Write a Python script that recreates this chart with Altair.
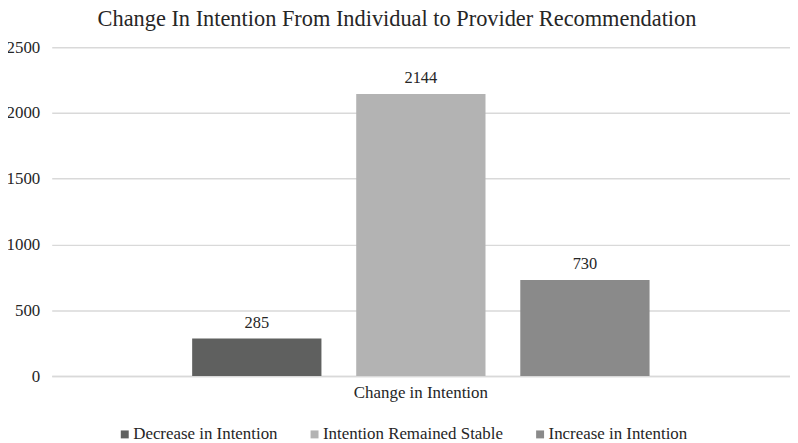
import altair as alt
import pandas as pd

categories = ["Change in Intention", "Change in Intention", "Change in Intention"]
series = ["Decrease in Intention", "Intention Remained Stable", "Increase in Intention"]
values = [285, 2144, 730]
colors = ["#5f605f", "#b3b3b3", "#8a8a8a"]
y_ticks = [0, 500, 1000, 1500, 2000, 2500]

df = pd.DataFrame({"category": categories, "series": series, "value": values})

FONT = "'Liberation Serif', 'Times New Roman', serif"
TXT = "#262626"
FS = 17

base = alt.Chart(df).encode(
    x=alt.X(
        "category:N",
        title=None,
        scale=alt.Scale(paddingInner=0, paddingOuter=0.25),
        axis=alt.Axis(labelAngle=0, ticks=False, domainColor="#d9d9d9", domainWidth=1.5,
                      labelFontSize=FS, labelFont=FONT, labelColor=TXT, labelPadding=9,
                      grid=False, labelLimit=0),
    ),
    xOffset=alt.XOffset("series:N", sort=series,
                        scale=alt.Scale(domain=series, paddingInner=0.212, paddingOuter=0.106)),
    y=alt.Y(
        "value:Q",
        title=None,
        scale=alt.Scale(domain=[0, 2500]),
        axis=alt.Axis(values=y_ticks, format="d", ticks=False, domain=False, grid=True,
                      gridColor="#d9d9d9", gridWidth=1.5, labelFontSize=FS, labelFont=FONT,
                      labelColor=TXT, labelPadding=12),
    ),
)

bars = base.mark_bar().encode(
    color=alt.Color(
        "series:N",
        sort=series,
        scale=alt.Scale(domain=series, range=colors),
        legend=alt.Legend(
            title=None, orient="none", legendX=65, legendY=381, direction="horizontal",
            symbolType="square", symbolSize=64, symbolStrokeWidth=0, labelFont=FONT,
            labelFontSize=FS, labelColor=TXT, columnPadding=28, labelOffset=0,
            labelLimit=0, padding=0,
        ),
    )
)

labels = base.mark_text(baseline="bottom", dy=-8, font=FONT, fontSize=16.5, color=TXT).encode(
    text="value:Q"
)

chart = (
    alt.layer(bars, labels)
    .properties(
        width=743,
        height=331,
        autosize="none",
        padding={"left": 44, "top": 38, "right": 0, "bottom": 66},
        title=alt.TitleParams(
            "Change In Intention From Individual to Provider Recommendation",
            font=FONT, fontSize=22.5, fontWeight="normal", color=TXT, anchor="middle",
            offset=8, dx=-24,
        ),
    )
    .configure(font=FONT)
    .configure_view(stroke=None)
)

chart.save("out.html", embed_options={"renderer": "svg", "actions": False})
